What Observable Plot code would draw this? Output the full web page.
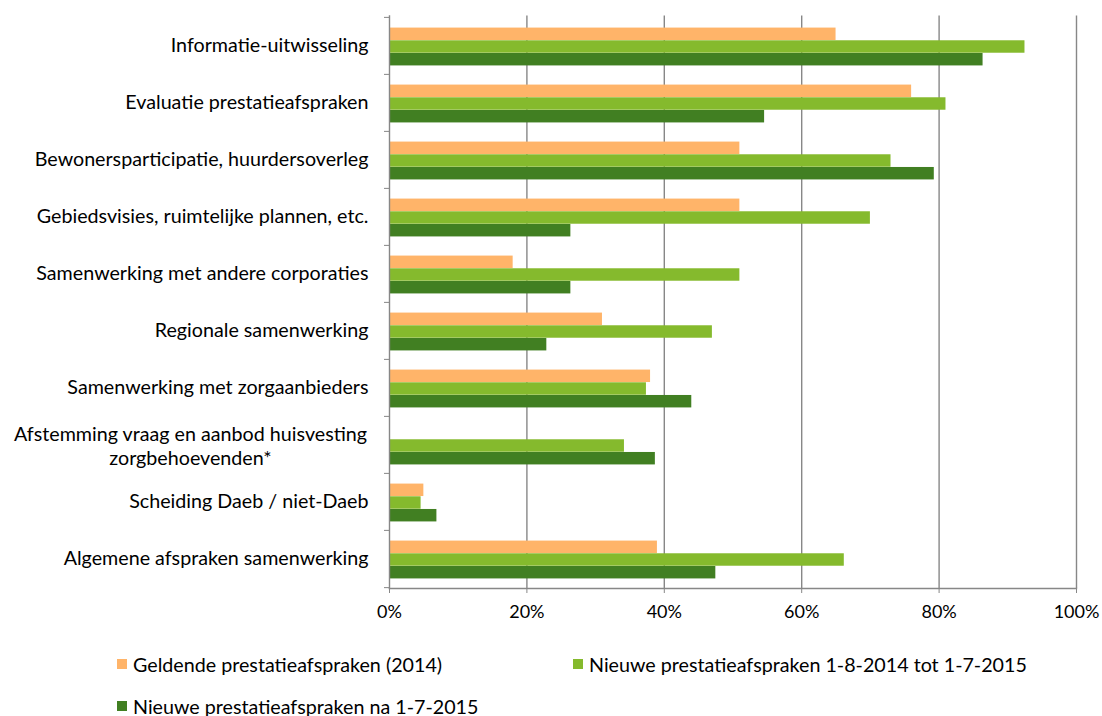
<!DOCTYPE html>
<html>
<head>
<meta charset="utf-8">
<script src="https://cdn.jsdelivr.net/npm/d3@7"></script>
<script src="https://cdn.jsdelivr.net/npm/@observablehq/plot@0.6"></script>
<style>
  body { margin: 0; background: #fff; font-family: Lato, sans-serif; }
  #chart { width: 1102px; }
  .legend { position: relative; height: 86px; font-size: 19.7px; color: #000; }
  .item { position: absolute; display: flex; align-items: center; white-space: nowrap; }
  .sw { width: 10px; height: 10px; margin-right: 6px; }
</style>
</head>
<body>
<div id="chart"></div>
<script>
const categories = [
  "Informatie-uitwisseling",
  "Evaluatie prestatieafspraken",
  "Bewonersparticipatie, huurdersoverleg",
  "Gebiedsvisies, ruimtelijke plannen, etc.",
  "Samenwerking met andere corporaties",
  "Regionale samenwerking",
  "Samenwerking met zorgaanbieders",
  "Afstemming vraag en aanbod huisvesting\nzorgbehoevenden*",
  "Scheiding Daeb / niet-Daeb",
  "Algemene afspraken samenwerking"
];
const seriesNames = [
  "Geldende prestatieafspraken (2014)",
  "Nieuwe prestatieafspraken 1-8-2014 tot 1-7-2015",
  "Nieuwe prestatieafspraken na 1-7-2015"
];
const geldende = [65, 76, 51, 51, 18, 31, 38, null, 5, 39];
const nieuw2014 = [92.5, 81, 73, 70, 51, 47, 37.4, 34.2, 4.6, 66.2];
const nieuw2015 = [86.4, 54.6, 79.3, 26.4, 26.4, 22.9, 44, 38.7, 6.9, 47.5];
const colors = ["#FFB469", "#85BA2D", "#417F22"];
const xTicks = [0, 20, 40, 60, 80, 100];

const seriesValues = [geldende, nieuw2014, nieuw2015];
const table = [];
seriesValues.forEach((vals, s) => vals.forEach((v, i) => {
  if (v != null) table.push({category: categories[i], series: seriesNames[s], value: v, s});
}));

const special = categories[7];
const marginTop = 15.5, marginBottom = 42, height = 630;
const step = (height - marginTop - marginBottom) / categories.length;
const barH = 12.7;
const inset = (step - barH) / 2;

const marks = [
  Plot.gridX(xTicks.slice(1), {stroke: "#878787", strokeOpacity: 1, strokeWidth: 1.4}),
  ...seriesNames.map((name, s) => Plot.barX(table.filter(d => d.s === s), {
    x: "value", y: "category", fill: colors[s],
    insetTop: inset, insetBottom: inset, dy: (s - 1) * barH + 1
  })),
  Plot.frame({anchor: "left", stroke: "#878787", strokeWidth: 1.4}),
  Plot.frame({anchor: "bottom", stroke: "#878787", strokeWidth: 1.4}),
  Plot.axisX({ticks: xTicks, tickSize: 5, tickPadding: 12, stroke: "#878787", fontSize: 18, tickFormat: d => d + "%", label: null}),
  Plot.axisY({tickSize: 5, stroke: "#878787", tickFormat: () => "", dy: -step / 2, label: null}),
  Plot.axisY({ticks: [categories[categories.length - 1]], tickSize: 5, stroke: "#878787", tickFormat: () => "", dy: step / 2, label: null}),
  Plot.axisY({tickSize: 0, tickPadding: 21, tickFormat: d => d === special ? "" : d, label: null}),
  Plot.text([special], {y: d => d, text: d => d, frameAnchor: "left", dx: -199, textAnchor: "middle", lineHeight: 1.22})
];

const chart = Plot.plot({
  width: 1102,
  height,
  marginTop, marginBottom,
  marginLeft: 389, marginRight: 26,
  x: {domain: [0, 100], label: null},
  y: {domain: categories, padding: 0, label: null},
  style: {fontFamily: "Lato, sans-serif", fontSize: "19.7px", color: "#000", background: "#fff"},
  marks
});
document.getElementById("chart").appendChild(chart);

const legend = document.createElement("div");
legend.className = "legend";
const pos = [[117, 34], [573, 34], [117, 76]];
seriesNames.forEach((name, s) => {
  const it = document.createElement("div");
  it.className = "item";
  it.style.left = pos[s][0] + "px";
  it.style.top = (pos[s][1] - 12) + "px";
  it.style.height = "24px";
  const sw = document.createElement("span");
  sw.className = "sw";
  sw.style.background = colors[s];
  const tx = document.createElement("span");
  tx.textContent = name;
  it.appendChild(sw); it.appendChild(tx);
  legend.appendChild(it);
});
document.getElementById("chart").appendChild(legend);
</script>
</body>
</html>
